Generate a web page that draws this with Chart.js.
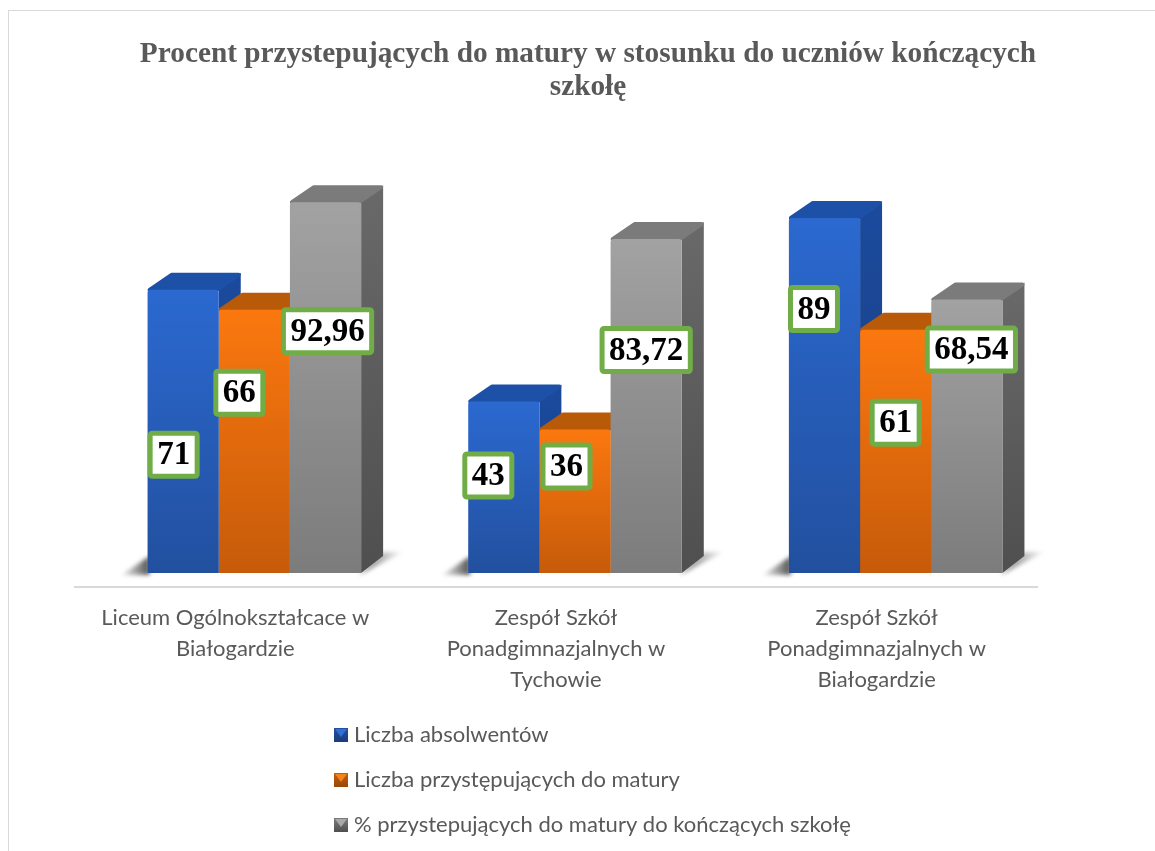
<!DOCTYPE html>
<html><head><meta charset="utf-8">
<script src="https://cdn.jsdelivr.net/npm/chart.js@4"></script>
<style>
html,body{margin:0;padding:0;background:#fff;overflow:hidden}
#wrap{position:relative;width:1155px;height:851px}
canvas{position:absolute;left:0;top:0}
#frame{position:absolute;left:8px;top:10px;right:0;bottom:0;border-left:1px solid #d9d9d9;border-top:1px solid #d9d9d9;pointer-events:none}
</style></head><body>
<div id="wrap"><canvas id="c" width="1155" height="851"></canvas><div id="frame"></div></div>
<script>
const categories = [
  ["Liceum Ogólnokształcace w","Białogardzie"],
  ["Zespół Szkół","Ponadgimnazjalnych w","Tychowie"],
  ["Zespół Szkół","Ponadgimnazjalnych w","Białogardzie"]
];
const seriesNames = ["Liczba absolwentów","Liczba przystępujących do matury","% przystepujących do matury do kończących szkołę"];
const absolwenci = [71,43,89];
const przystepujacy = [66,36,61];
const procent = [92.96,83.72,68.54];
const titleLines = ["Procent przystepujących do matury w stosunku do uczniów kończących","szkołę"];

const palette = [
  {hi:'#2b69d0',lo:'#22509f',top:'#1d51a8',sideHi:'#1b4a9c',sideLo:'#1a3c7c',sw:'#2f6fd6'},
  {hi:'#fb780f',lo:'#c65b0a',top:'#b85a08',sideHi:'#b85a08',sideLo:'#96480a',sw:'#f4811c'},
  {hi:'#a2a2a2',lo:'#7c7c7c',top:'#7b7b7b',sideHi:'#686868',sideLo:'#4f4f4f',sw:'#a8a8a8'}
];
// 3D look: the bars sit to the right of the axis slot, extruded back and up
const SHIFT=19, DX=22, DY=17;
// hand-placed label boxes, relative to each bar's top centre
const labelNudge=[
  [[-9.5,165],[-15.5,74],[-10.5,91]],
  [[-15,83],[-8.5,37],[0,93]],
  [[2,129],[0,111],[4.5,50]]
];
function gradFront(c){
  const chart=c.chart, p=palette[c.datasetIndex];
  if(!chart.chartArea||c.parsed===undefined) return p.hi;
  const y=chart.scales.y;
  const g=chart.ctx.createLinearGradient(0,y.getPixelForValue(c.parsed.y),0,y.getPixelForValue(0));
  g.addColorStop(0,p.hi);g.addColorStop(1,p.lo);
  return g;
}
function swatch(p){
  const s=document.createElement('canvas');s.width=14;s.height=14;
  const x=s.getContext('2d');
  const g=x.createLinearGradient(0,0,0,14);g.addColorStop(0,p.lo);g.addColorStop(1,p.sideLo);
  x.fillStyle=g;x.fillRect(0,0,14,14);
  x.fillStyle=p.sw;x.beginPath();x.moveTo(1,1);x.lineTo(13,1);x.lineTo(7,9);x.closePath();x.fill();
  return s;
}
function poly(ctx,pts){ctx.beginPath();pts.forEach((q,i)=>i?ctx.lineTo(q[0],q[1]):ctx.moveTo(q[0],q[1]));ctx.closePath();ctx.fill();}

const bars3d={
  id:'bars3d',
  afterLayout(chart){
    chart.titleBlock.left=21;chart.titleBlock.right=1155;
    chart.legend.left=316;chart.legend.right=876;
    chart.legend.top-=1;chart.legend.bottom=851;
  },
  beforeDatasetsDraw(chart){
    const ctx=chart.ctx, n=chart.data.labels.length;
    for(let i=0;i<n;i++){
      const a=chart.getDatasetMeta(0).data[i], b=chart.getDatasetMeta(2).data[i];
      const l=a.x-a.width/2+SHIFT, r=b.x+b.width/2+SHIFT, base=a.base;
      ctx.save();
      ctx.filter='blur(2px)';
      let g=ctx.createLinearGradient(l-26,0,l,0);g.addColorStop(0,'rgba(110,110,110,.15)');g.addColorStop(1,'rgba(70,70,70,.9)');
      ctx.fillStyle=g;poly(ctx,[[l+2,base-17],[l+2,base+2],[l-26,base+2]]);
      g=ctx.createLinearGradient(r,0,r+DX+20,0);g.addColorStop(0,'rgba(80,80,80,.85)');g.addColorStop(1,'rgba(120,120,120,.05)');
      ctx.fillStyle=g;poly(ctx,[[r-2,base+2],[r+DX,base-21],[r+DX+20,base-21]]);
      ctx.restore();
    }
    // side and top faces, left series first so that later series overlap them
    [0,1,2].forEach(d=>{
      const p=palette[d];
      chart.getDatasetMeta(d).data.forEach(el=>{
        const l=el.x-el.width/2+SHIFT,r=el.x+el.width/2+SHIFT,t=el.y,b=el.base;
        const g=ctx.createLinearGradient(0,t,0,b);g.addColorStop(0,p.sideHi);g.addColorStop(1,p.sideLo);
        ctx.fillStyle=g;poly(ctx,[[r,t],[r+DX,t-DY],[r+DX,b-DY],[r,b]]);
        ctx.fillStyle=p.top;ctx.strokeStyle=p.top;ctx.lineJoin='round';ctx.lineWidth=4;
        poly(ctx,[[l+2,t],[l+DX+2,t-DY+2],[r+DX-2,t-DY+2],[r-2,t]]);ctx.stroke();
      });
    });
  },
  beforeDatasetDraw(chart){chart.ctx.save();chart.ctx.translate(SHIFT,0);},
  afterDatasetDraw(chart){chart.ctx.restore();},
  afterDatasetsDraw(chart){
    const ctx=chart.ctx;
    chart.data.datasets.forEach((ds,d)=>{
      chart.getDatasetMeta(d).data.forEach((el,i)=>{
        const txt=String(ds.data[i]).replace('.',',');
        const [nx,ny]=labelNudge[d][i];
        const cx=el.x+SHIFT+nx, cy=el.y+ny;
        ctx.font='bold 33px "Liberation Serif"';
        const w=ctx.measureText(txt).width+14, h=43;
        ctx.beginPath();ctx.roundRect(cx-w/2,cy-h/2,w,h,2);
        ctx.fillStyle='#fff';ctx.fill();
        ctx.lineWidth=5;ctx.strokeStyle='#70ad47';ctx.lineJoin='round';ctx.stroke();
        ctx.fillStyle='#000';ctx.textAlign='center';ctx.textBaseline='middle';
        ctx.fillText(txt,cx,cy+1);
      });
    });
  }
};

new Chart(document.getElementById('c'),{
  type:'bar',
  data:{labels:categories,datasets:[
    {label:seriesNames[0],data:absolwenci},
    {label:seriesNames[1],data:przystepujacy},
    {label:seriesNames[2],data:procent}
  ].map(d=>Object.assign(d,{backgroundColor:gradFront,borderRadius:{topLeft:3,topRight:3},borderSkipped:false,clip:false,categoryPercentage:.666,barPercentage:1}))},
  plugins:[bars3d],
  options:{
    responsive:false,animation:false,
    layout:{padding:{left:75,right:118,top:12,bottom:49}},
    plugins:{
      tooltip:{enabled:false},
      title:{display:true,text:titleLines,color:'#595959',
        font:{family:'"Liberation Serif"',size:29.3,weight:'bold',lineHeight:1.13},
        padding:{top:26,bottom:30}},
      legend:{position:'bottom',align:'start',maxWidth:560,
        labels:{color:'#595959',font:{family:'Lato',size:22},usePointStyle:true,pointStyleWidth:4,padding:23,
          generateLabels(chart){
            return Chart.defaults.plugins.legend.labels.generateLabels(chart).map((it,i)=>Object.assign(it,{pointStyle:swatch(palette[i]),fontColor:'#595959'}));
          }}}
    },
    scales:{
      x:{grid:{display:false},border:{color:'#d9d9d9',width:2},
        ticks:{color:'#595959',font:{family:'Lato',size:22,lineHeight:1.41},padding:7,maxRotation:0,autoSkip:false}},
      y:{display:false,min:-3.5,max:110}
    }
  }
});
</script></body></html>
